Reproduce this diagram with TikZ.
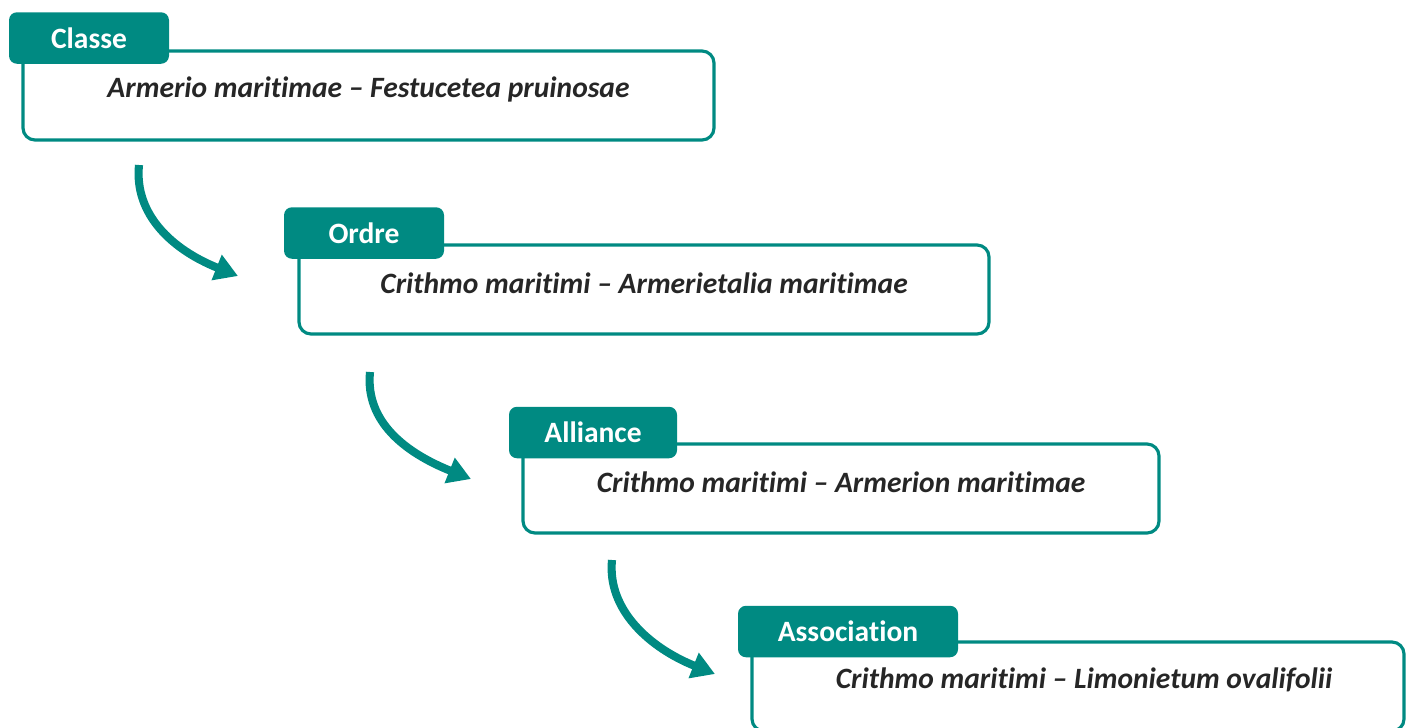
\documentclass[tikz,border=0pt]{standalone}
\usepackage{fontspec}
\setmainfont{Carlito}[Ligatures=NoCommon]
\usepackage{xcolor}
\usetikzlibrary{arrows.meta}
\definecolor{phyto}{RGB}{0,138,130}
\definecolor{taxongrey}{RGB}{38,38,38}

\begin{document}
\begin{tikzpicture}[
      box/.style={draw=phyto,line width=1.8pt,rounded corners=0.24cm,minimum height=1.78cm,inner sep=0pt},
      rank/.style={fill=phyto,rounded corners=0.16cm,minimum height=1.03cm,inner sep=0pt,text=white,font=\fontsize{16.8}{20}\selectfont\bfseries},
      taxon/.style={text=taxongrey,font=\fontsize{16.8}{20}\selectfont\bfseries\itshape},
      flow/.style={draw=phyto,line width=4.6pt,-{Triangle[length=0.46cm,width=0.52cm]}}]

      \useasboundingbox (0,0) rectangle (28.12,-14.54);

      \node[box,minimum width=13.82cm] (classe) at (7.37,-1.91) {};
      \node[rank,minimum width=3.2cm] (classetab) at (1.78,-0.76) {Classe};
      \node[taxon] (classename) at ([yshift=0.13cm]classe.center)
        {Armerio maritimae – Festucetea pruinosae};

      \node[box,minimum width=13.8cm] (ordre) at (12.88,-5.79) {};
      \node[rank,minimum width=3.2cm] (ordretab) at (7.28,-4.66) {Ordre};
      \node[taxon] (ordrename) at ([yshift=0.13cm]ordre.center)
        {Crithmo maritimi – Armerietalia maritimae};

      \node[box,minimum width=12.72cm] (alliance) at (16.82,-9.77) {};
      \node[rank,minimum width=3.36cm] (alliancetab) at (11.86,-8.65) {Alliance};
      \node[taxon] (alliancename) at ([yshift=0.13cm]alliance.center)
        {Crithmo maritimi – Armerion maritimae};

      \node[box,minimum width=13.04cm] (association) at (21.56,-13.73) {};
      \node[rank,minimum width=4.4cm] (associationtab) at (16.96,-12.63) {Association};
      \node[taxon] (associationname) at ([xshift=0.12cm,yshift=0.13cm]association.center)
        {Crithmo maritimi – Limonietum ovalifolii};

      \coordinate (from1) at (2.78,-3.30);
      \coordinate (to1) at (4.76,-5.52);
      \coordinate (from2) at (7.40,-7.44);
      \coordinate (to2) at (9.42,-9.58);
      \coordinate (from3) at (12.24,-11.20);
      \coordinate (to3) at (14.30,-13.48);

      \draw[flow] (from1) .. controls +(-0.1,-1.0) and +(-1.3,0.52) .. (to1);
      \draw[flow] (from2) .. controls +(-0.1,-1.0) and +(-1.3,0.52) .. (to2);
      \draw[flow] (from3) .. controls +(-0.1,-1.0) and +(-1.3,0.52) .. (to3);
    \end{tikzpicture}
\end{document}
